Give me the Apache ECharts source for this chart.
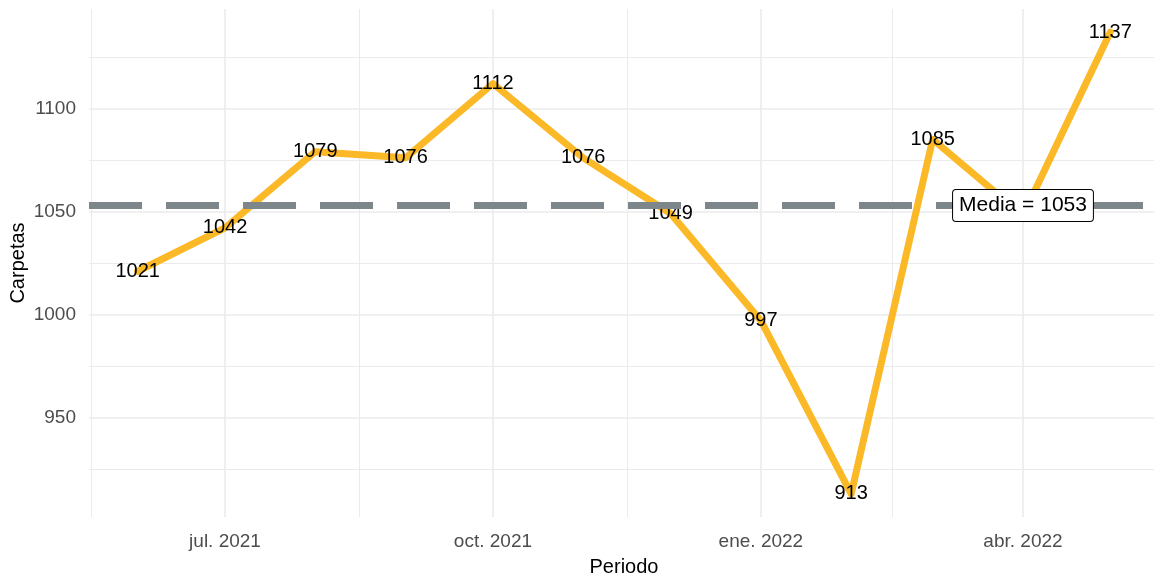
<!DOCTYPE html>
<html>
<head>
<meta charset="UTF-8">
<script src="https://cdn.jsdelivr.net/npm/echarts@6/dist/echarts.min.js"></script>
<style>
  html, body { margin: 0; padding: 0; background: #fff; }
  #main { width: 1154px; height: 577px; }
</style>
</head>
<body>
<div id="main"></div>
<script>
// monthly folders (carpetas), jun 2021 - may 2022
var periods = ['2021-06-01', '2021-07-01', '2021-08-01', '2021-09-01', '2021-10-01', '2021-11-01',
               '2021-12-01', '2022-01-01', '2022-02-01', '2022-03-01', '2022-04-01', '2022-05-01'];
var carpetas = [1021, 1042, 1079, 1076, 1112, 1076, 1049, 997, 913, 1085, 1048, 1137];

var xBreaks = ['2021-07-01', '2021-10-01', '2022-01-01', '2022-04-01'];
var xBreakLabels = ['jul. 2021', 'oct. 2021', 'ene. 2022', 'abr. 2022'];
var xMinorBreaks = ['2021-05-16', '2021-08-16', '2021-11-16', '2022-02-15', '2022-05-16'];
var yBreaks = [950, 1000, 1050, 1100];
var yMinorBreaks = [925, 975, 1025, 1075, 1125];
var meanLabelAt = '2022-04-01';

// dates -> days since epoch (numeric x scale)
var day = function (s) { return Date.parse(s + 'T00:00:00Z') / 86400000; };

var media = carpetas.reduce(function (a, b) { return a + b; }, 0) / carpetas.length;

// ggplot style 5% expansion
var x0 = day(periods[0]), x1 = day(periods[periods.length - 1]);
var xMin = x0 - 0.05 * (x1 - x0), xMax = x1 + 0.05 * (x1 - x0);
var yLo = Math.min.apply(null, carpetas), yHi = Math.max.apply(null, carpetas);
var yMin = yLo - 0.05 * (yHi - yLo), yMax = yHi + 0.05 * (yHi - yLo);

var textFont = 'Liberation Sans, Arial, sans-serif';
var gridColor = '#ebebeb';

var chart = echarts.init(document.getElementById('main'));

var baseX = {
    type: 'value', min: xMin, max: xMax,
    axisLine: { show: false }
};
var baseY = {
    type: 'value', min: yMin, max: yMax,
    axisLine: { show: false }
};

chart.setOption({
    animation: false,
    backgroundColor: '#ffffff',
    grid: { left: 89, right: -5, top: 9, bottom: 60, containLabel: false, outerBoundsMode: 'none' },
    xAxis: [
        Object.assign({}, baseX, {
            name: 'Periodo',
            nameLocation: 'middle',
            nameGap: 40,
            nameMoveOverlap: false,
            nameTextStyle: { fontFamily: textFont, fontSize: 20, color: '#000' },
            axisTick: { show: false, customValues: xBreaks.map(day) },
            axisLabel: {
                customValues: xBreaks.map(day),
                margin: 15,
                fontFamily: textFont, fontSize: 19, color: '#4d4d4d',
                formatter: function (v) {
                    for (var i = 0; i < xBreaks.length; i++) {
                        if (Math.abs(day(xBreaks[i]) - v) < 0.5) return xBreakLabels[i];
                    }
                    return '';
                }
            },
            splitLine: { show: true, lineStyle: { color: gridColor, width: 1.6 } },
            z: 1
        }),
        Object.assign({}, baseX, {
            axisTick: { show: false, customValues: xMinorBreaks.map(day) },
            axisLabel: { show: false, customValues: xMinorBreaks.map(day) },
            splitLine: { show: true, lineStyle: { color: gridColor, width: 1 } },
            z: 0
        })
    ],
    yAxis: [
        Object.assign({}, baseY, {
            name: 'Carpetas',
            nameLocation: 'middle',
            nameGap: 61,
            nameMoveOverlap: false,
            nameTextStyle: { fontFamily: textFont, fontSize: 20, color: '#000' },
            axisTick: { show: false, customValues: yBreaks },
            axisLabel: {
                customValues: yBreaks,
                margin: 13,
                fontFamily: textFont, fontSize: 19, color: '#4d4d4d',
                formatter: function (v) { return String(Math.round(v)); }
            },
            splitLine: { show: true, lineStyle: { color: gridColor, width: 1.6 } },
            z: 1
        }),
        Object.assign({}, baseY, {
            position: 'left',
            axisTick: { show: false, customValues: yMinorBreaks },
            axisLabel: { show: false, customValues: yMinorBreaks },
            splitLine: { show: true, lineStyle: { color: gridColor, width: 1 } },
            z: 0
        })
    ],
    series: [
        {
            type: 'line',
            data: periods.map(function (p, i) { return [day(p), carpetas[i]]; }),
            showSymbol: true,
            symbol: 'circle',
            symbolSize: 2,
            itemStyle: { color: '#fbb827' },
            lineStyle: { color: '#fbb827', width: 7, cap: 'round', join: 'round' },
            label: {
                show: true, position: 'inside',
                formatter: function (p) { return p.value[1]; },
                fontFamily: textFont, fontSize: 20, color: '#000'
            },
            z: 3
        },
        {
            type: 'line',
            data: [],
            markLine: {
                silent: true,
                symbol: ['none', 'none'],
                label: { show: false },
                lineStyle: { color: '#7d878b', width: 7, type: [53, 24], cap: 'butt' },
                data: [{ yAxis: media }]
            },
            z: 5
        },
        {
            type: 'scatter',
            data: [[day(meanLabelAt), media]],
            symbolSize: 0,
            itemStyle: { opacity: 1 },
            label: {
                show: true, position: 'inside',
                formatter: function () { return 'Media = ' + Math.round(media); },
                fontFamily: textFont, fontSize: 21, color: '#000',
                backgroundColor: '#fff', borderColor: '#000', borderWidth: 1,
                borderRadius: 3, padding: [6, 6, 4, 6]
            },
            z: 6
        }
    ]
});
</script>
</body>
</html>
